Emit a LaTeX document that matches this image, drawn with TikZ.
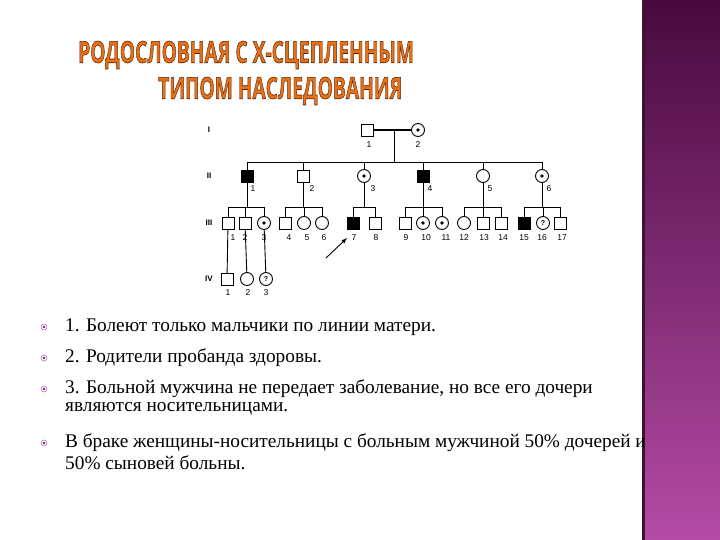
\documentclass[tikz,border=0pt]{standalone}
\usepackage{fontspec}
\setmainfont{Liberation Serif}
\newfontfamily\titlefont{Open Sans}
\newfontfamily\lab{Liberation Sans}
\definecolor{bandtop}{RGB}{72,10,62}
\definecolor{bandbot}{RGB}{180,75,165}
\definecolor{bandedge}{RGB}{60,20,50}
\definecolor{tor}{RGB}{232,112,20}
\begin{document}
\begin{tikzpicture}[x=1pt,y=-1pt,
  m/.style={draw,line width=0.9pt,minimum size=12pt,inner sep=0pt,fill=white},
  sq/.style={m,rectangle},
  aff/.style={m,rectangle,fill=black},
  fe/.style={m,circle,minimum size=13pt},
  car/.style={fe,path picture={\fill[black] (path picture bounding box.center) circle (1.8pt);}},
  qq/.style={fe,font=\lab\scriptsize\bfseries},
  ln/.style={line width=0.9pt},
  nl/.style={font=\lab\fontsize{8.5}{9}\selectfont,inner sep=0pt},
  gl/.style={font=\lab\fontsize{8}{9}\selectfont\bfseries,inner sep=0pt},
  bl/.style={circle,draw=violet!60,fill=white,line width=0.5pt,minimum size=6pt,inner sep=0pt,path picture={\fill[violet!80!magenta] (path picture bounding box.center) circle (1.4pt);}},
  tx/.style={anchor=west,inner sep=0pt,font=\fontsize{19.3}{20}\selectfont,align=left}]
\useasboundingbox (0,0) rectangle (720,540);
\fill[white] (0,0) rectangle (720,540);
\shade[top color=bandtop,bottom color=bandbot] (643,0) rectangle (720,540);
\fill[bandedge] (642,0) rectangle (645,540);
% title
\node[anchor=west,inner sep=0pt,text=tor,font=\titlefont\bfseries\fontsize{30}{32}\selectfont] (t1) at (78,55) {\special{pdf:literal 0.35 0.15 0.05 RG 0.6 w 2 Tr}\scalebox{0.64}[1]{РОДОСЛОВНАЯ С Х-СЦЕПЛЕННЫМ}\special{pdf:literal 0 Tr}};
\node[anchor=west,inner sep=0pt,text=tor,font=\titlefont\bfseries\fontsize{30}{32}\selectfont] (t2) at (158,91) {\special{pdf:literal 0.35 0.15 0.05 RG 0.6 w 2 Tr}\scalebox{0.64}[1]{ТИПОМ НАСЛЕДОВАНИЯ}\special{pdf:literal 0 Tr}};
% generation labels
\node[gl] (gI) at (209,130) {I};
\node[gl] (gII) at (209,176) {II};
\node[gl] (gIII) at (209,223) {III};
\node[gl] (gIV) at (209,279) {IV};
% lines first
\coordinate (mI) at (394,130);
\coordinate (sII) at (394,162);
\draw[line width=1.4pt] (367,130) -- (418,130);
\draw[ln] (mI) -- (sII);
\draw[ln] (247,162) -- (542,162);
\foreach \x in {247,303,364,423,483,542} \draw[ln] (\x,162) -- (\x,176);
% sibships
\foreach \p/\a/\b in {247/228/264,303/285/322,364/353/375,423/405/442,483/464/501,542/524/560}{
  \draw[ln] (\p,176) -- (\p,207);
  \draw[ln] (\a,207) -- (\b,207);
}
\foreach \x in {228,245,264,285,304,322,353,375,405,423,442,464,483,501,524,543,560} \draw[ln] (\x,207) -- (\x,223);
\draw[ln] (228,223) -- (227,279);
\draw[ln] (245,223) -- (247,279);
\draw[ln] (264,223) -- (266,279);
% generation I
\node[sq] (i1) at (367,130) {};
\node[car] (i2) at (418,130) {};
\node[nl] (li1) at (369,145) {1};
\node[nl] (li2) at (418,145) {2};
% generation II
\node[aff] (ii1) at (247,176) {};
\node[sq] (ii2) at (303,176) {};
\node[car] (ii3) at (364,176) {};
\node[aff] (ii4) at (423,176) {};
\node[fe] (ii5) at (483,176) {};
\node[car] (ii6) at (542,176) {};
\foreach \n/\x in {1/253,2/312,3/373,4/430,5/490,6/549} \node[nl] (lii\n) at (\x,189) {\n};
% generation III
\node[sq] (iii1) at (228,223) {};
\node[sq] (iii2) at (245,223) {};
\node[car] (iii3) at (264,223) {};
\node[sq] (iii4) at (285,223) {};
\node[fe] (iii5) at (304,223) {};
\node[fe] (iii6) at (322,223) {};
\node[aff] (iii7) at (353,223) {};
\node[sq] (iii8) at (375,223) {};
\node[sq] (iii9) at (405,223) {};
\node[car] (iii10) at (423,223) {};
\node[car] (iii11) at (442,223) {};
\node[fe] (iii12) at (464,223) {};
\node[sq] (iii13) at (483,223) {};
\node[sq] (iii14) at (501,223) {};
\node[aff] (iii15) at (524,223) {};
\node[qq] (iii16) at (543,223) {?};
\node[sq] (iii17) at (560,223) {};
\foreach \n/\x in {1/233,2/245,3/264,4/289,5/307,6/324,7/354,8/376,9/406,10/426,11/446,12/464,13/484,14/503,15/524,16/542,17/562} \node[nl] (liii\n) at (\x,238) {\n};
% generation IV
\node[sq] (iv1) at (227,279) {};
\node[fe] (iv2) at (247,279) {};
\node[qq] (iv3) at (266,279) {?};
\foreach \n/\x in {1/228,2/248,3/266} \node[nl] (liv\n) at (\x,293) {\n};
% proband arrow
\coordinate (ar) at (326,258);
\draw[ln,-latex] (ar) -- (347,238);
% bullet text
\foreach \y [count=\i] in {327,358,389,443} \node[bl] (b\i) at (44,\y) {};
\node[tx] (x1) at (65,327) {1. Болеют только мальчики по линии матери.};
\node[tx] (x2) at (65,358) {2. Родители пробанда здоровы.};
\node[tx] (x3) at (65,389) {3. Больной мужчина не передает заболевание, но все его дочери};
\node[tx] (x3b) at (65,409) {являются носительницами.};
\node[tx] (x4) at (65,443) {В браке женщины-носительницы с больным мужчиной 50\% дочерей и};
\node[tx] (x4b) at (65,463) {50\% сыновей больны.};
\end{tikzpicture}
\end{document}
